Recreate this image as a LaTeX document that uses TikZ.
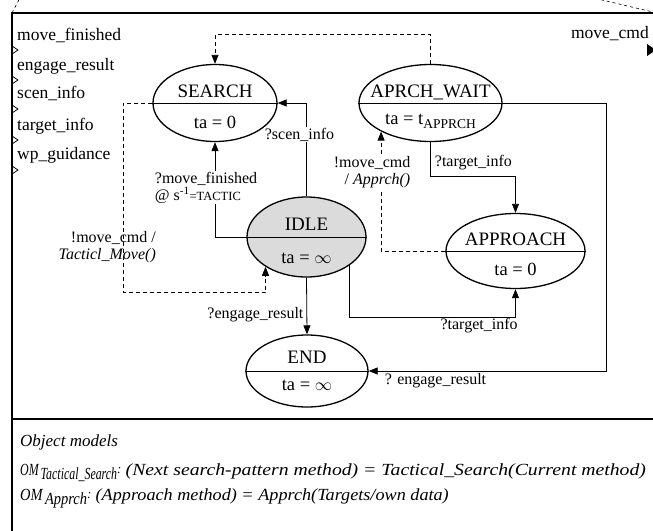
\documentclass[tikz,border=0pt]{standalone}
\usepackage{fontspec}
\setmainfont{Liberation Serif}
\usetikzlibrary{shapes.geometric,arrows.meta}

\begin{document}
\begin{tikzpicture}[x=1pt,y=-1pt,
  state/.style={draw,ellipse,line width=1.3pt,inner sep=0pt},
  sname/.style={anchor=base,inner sep=0pt,font=\fontsize{19}{19}\selectfont},
  sta/.style={anchor=base,inner sep=0pt,font=\fontsize{18.5}{18.5}\selectfont},
  trans/.style={line width=0.8pt,-{Triangle[length=9pt,width=7pt]}},
  ctrl/.style={trans,dash pattern=on 4pt off 3pt},
  lbl/.style={inner sep=1pt,font=\fontsize{16}{16}\selectfont},
  port/.style={anchor=base west,inner sep=0pt,font=\fontsize{17.5}{17.5}\selectfont},
  om/.style={anchor=base west,inner sep=0pt,font=\fontsize{17}{17}\selectfont\itshape}]
\clip (0,0) rectangle (653,530);
% frame of the coupled model
\draw[line width=1.5pt] (12,540) -- (12,13) -- (660,13);
\draw[line width=1.5pt] (12,419) -- (660,419);
\draw[line width=0.6pt,dashed] (12,13) -- (22,-6);
\draw[line width=0.6pt,dashed] (560,-10) -- (657,13);
% input ports
\node[port] (p-movefin) at (17,40) {move\_finished};
\node[port] (p-engage) at (17,70) {engage\_result};
\node[port] (p-scen) at (17,98) {scen\_info};
\node[port] (p-target) at (17,130) {target\_info};
\node[port] (p-wp) at (17,159) {wp\_guidance};
\draw[line width=0.8pt] (12,46) -- (18,50) -- (12,54);
\draw[line width=0.8pt] (12,76) -- (18,80) -- (12,84);
\draw[line width=0.8pt] (12,105) -- (18,109) -- (12,113);
\draw[line width=0.8pt] (12,136) -- (18,140) -- (12,144);
\draw[line width=0.8pt] (12,166) -- (18,170) -- (12,174);
% output port
\node[port,anchor=base east] (p-movecmd) at (649,38) {move\_cmd};
\fill (647,44) -- (656,50) -- (647,56) -- cycle;
% states
\node[state,minimum width=124pt,minimum height=77pt] (search) at (215,103) {};
\node[state,minimum width=143pt,minimum height=77pt] (wait) at (430.5,103) {};
\node[state,fill=gray!28,minimum width=119pt,minimum height=80pt] (idle) at (306.5,237) {};
\node[state,minimum width=139pt,minimum height=75pt] (approach) at (515.5,251) {};
\node[state,minimum width=122pt,minimum height=72pt] (end) at (307,371) {};
\draw[line width=1pt] (search.west) -- (search.east);
\draw[line width=1pt] (wait.west) -- (wait.east);
\draw[line width=1pt] (idle.west) -- (idle.east);
\draw[line width=1pt] (approach.west) -- (approach.east);
\draw[line width=1pt] (end.west) -- (end.east);
\node[sname] (search-n) at ([yshift=6pt]search.center) {SEARCH};
\node[sta] (search-ta) at ([yshift=-25pt]search.center) {ta = 0};
\node[sname] (wait-n) at ([yshift=6pt]wait.center) {APRCH\_WAIT};
\node[sta] (wait-ta) at ([yshift=-21pt]wait.center) {ta = t\raisebox{-4pt}{\fontsize{13.5}{13.5}\selectfont APPRCH}};
\node[sname] (idle-n) at ([yshift=7pt]idle.center) {IDLE};
\node[sta] (idle-ta) at ([yshift=-26pt]idle.center) {ta = $\infty$};
\node[sname] (approach-n) at ([yshift=6pt]approach.center) {APPROACH};
\node[sta] (approach-ta) at ([yshift=-24pt]approach.center) {ta = 0};
\node[sname] (end-n) at ([yshift=8pt]end.center) {END};
\node[sta] (end-ta) at ([yshift=-19pt]end.center) {ta = $\infty$};
% transitions
\draw[ctrl] (wait.north) -- ++(0,-29) -| (search.north);
\draw[trans] (idle.north) |- (search.east)
  node[lbl,fill=white,pos=0.33,xshift=-7pt] (l-scen) {?scen\_info};
\draw[trans] (idle.west) -| (search.south)
  node[lbl,fill=white,align=left,pos=0.76,xshift=-9pt] (l-movefin) {?move\_finished\\[1pt]@ s\textsuperscript{-1}{\fontsize{12.5}{12.5}\selectfont =TACTIC}};
\draw[ctrl] (search.west) -- ++(-29,0) |- ([yshift=-26pt]idle.216) -- (idle.216);
\node[lbl,align=right,anchor=east] (l-tacmove) at (157,247) {!move\_cmd /\\[1pt]\textit{Tacticl\_Move()}};
\draw[ctrl] (approach.west) -| (wait.210)
  node[lbl,fill=white,align=right,pos=0.83,xshift=-9pt] (l-apprch) {!move\_cmd\\[1pt]/ \textit{Apprch()}};
\draw[trans] (wait.south) -- ++(0,34)
  node[lbl,anchor=west,pos=0.6,xshift=3pt] (l-target1) {?target\_info} -| (approach.north);
\draw[trans] (idle.-33) -- ++(0,52) -| (approach.south)
  node[lbl,below,pos=0.39] (l-target2) {?target\_info};
\draw[trans] (wait.east) -- ++(104,0) |- (end.east);
\node[lbl,anchor=north west] (l-engage2) at ([xshift=15pt,yshift=-1pt]end.east) {? engage\_result};
\draw[trans] (idle.south) -- (end.north)
  node[lbl,left,pos=0.65,xshift=-2pt] (l-engage1) {?engage\_result};
% object models
\node[om] (om-title) at (20,446) {Object models};
\node[om] (om-search) at (20,475) {\scalebox{0.7}[1]{OM\,\raisebox{-4pt}{Tactical\_Search}}\raisebox{2pt}{\fontsize{13}{13}\selectfont:} \scalebox{1.16}[1]{(Next search-pattern method) = Tactical\_Search(Current method)}};
\node[om] (om-apprch) at (20,500) {\scalebox{0.85}[1]{OM\,\raisebox{-4pt}{Apprch}}\raisebox{2pt}{\fontsize{13}{13}\selectfont:} \scalebox{1.07}[1]{(Approach method) = Apprch(Targets/own data)}};
\end{tikzpicture}
\end{document}
